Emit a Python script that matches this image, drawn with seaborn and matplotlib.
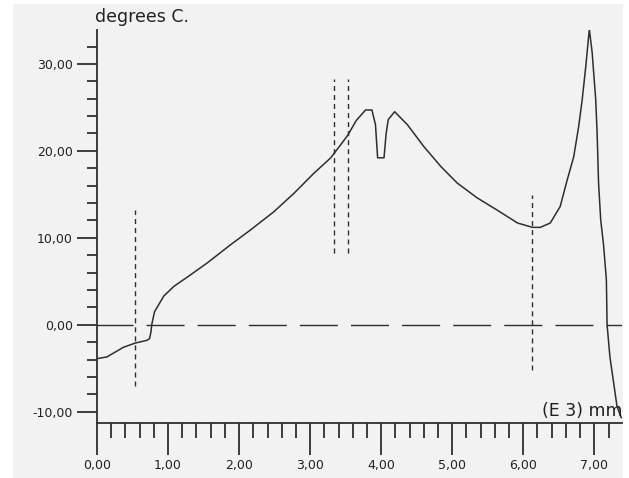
import matplotlib
matplotlib.use("Agg")
import matplotlib.pyplot as plt
from matplotlib.patches import Rectangle
from matplotlib.ticker import MultipleLocator, FuncFormatter
import seaborn as sns
import pandas as pd

# ---- data ----
depth_e3mm = [0.0, 0.14, 0.37, 0.54, 0.70, 0.74, 0.76, 0.77, 0.81, 0.94, 1.08, 1.31, 1.55,
              1.88, 2.16, 2.49, 2.77, 3.05, 3.29, 3.43, 3.53, 3.65, 3.78, 3.87, 3.92, 3.95,
              4.04, 4.07, 4.10, 4.19, 4.37, 4.60, 4.84, 5.07, 5.35, 5.63, 5.92, 6.13, 6.24,
              6.38, 6.52, 6.62, 6.71, 6.78, 6.83, 6.88, 6.93, 6.97, 7.02, 7.04, 7.06, 7.09,
              7.13, 7.17, 7.18, 7.22, 7.32, 7.38]
temp_c = [-3.9, -3.7, -2.6, -2.1, -1.8, -1.6, -0.8, 0.0, 1.5, 3.3, 4.4, 5.7, 7.1,
          9.2, 10.9, 13.0, 15.1, 17.4, 19.2, 20.7, 21.8, 23.5, 24.7, 24.7, 23.0, 19.2,
          19.2, 22.0, 23.6, 24.5, 23.0, 20.5, 18.2, 16.3, 14.6, 13.2, 11.7, 11.2, 11.2,
          11.7, 13.6, 16.7, 19.3, 22.8, 25.9, 29.7, 34.0, 31.3, 25.9, 22.0, 16.3, 12.1,
          9.2, 5.2, 0.0, -3.7, -9.4, -10.7]

marker_x = [0.535, 3.33, 3.53, 6.13]
marker_ymin = [-7.0, 8.2, 8.2, -5.2]
marker_ymax = [13.2, 28.3, 28.3, 14.9]

x_major_ticks = [0, 1, 2, 3, 4, 5, 6, 7]
y_major_ticks = [-10, 0, 10, 20, 30]
x_label = "(E 3) mm"
y_label = "degrees C."

df = pd.DataFrame({"depth": depth_e3mm, "temp": temp_c})

# ---- styling ----
sns.set_theme(style="ticks")
plt.rcParams["font.family"] = ["DejaVu Sans"]
BG = "#f2f2f2"
INK = "#2e2e2e"

W, H = 629, 478
fig = plt.figure(figsize=(W / 100, H / 100), dpi=100, facecolor="white")
fig.patches.append(Rectangle((13 / W, 0), (623 - 13) / W, (H - 4) / H,
                             transform=fig.transFigure, facecolor=BG,
                             edgecolor="none", zorder=-10))

ax = fig.add_axes([97 / W, (H - 423) / H, (622 - 97) / W, (423 - 30) / H])
ax.set_facecolor("none")

sns.lineplot(data=df, x="depth", y="temp", ax=ax, sort=False, estimator=None,
             color=INK, linewidth=1.1)

ax.axhline(0, color=INK, linewidth=1.0, linestyle=(1.5, (27.4, 9.4)))
for xv, y0, y1 in zip(marker_x, marker_ymin, marker_ymax):
    ax.plot([xv, xv], [y0, y1], color=INK, linewidth=1.0,
            linestyle=(0, (3.6, 2.9)))

ax.set_xlim(0, 7.39)
ax.set_ylim(-11.3, 33.9)

for s in ["top", "right"]:
    ax.spines[s].set_visible(False)
for s in ["left", "bottom"]:
    ax.spines[s].set_color(INK)
    ax.spines[s].set_linewidth(1.3)

ax.set_xticks(x_major_ticks)
ax.set_yticks(y_major_ticks)
ax.xaxis.set_minor_locator(MultipleLocator(0.2))
ax.yaxis.set_minor_locator(MultipleLocator(2))
fmt = FuncFormatter(lambda v, p: f"{v:.2f}".replace(".", ","))
ax.xaxis.set_major_formatter(fmt)
ax.yaxis.set_major_formatter(fmt)

ax.tick_params(axis="x", which="major", length=23, width=1.3, color=INK,
               labelsize=9, labelcolor="#222222", pad=3)
ax.tick_params(axis="x", which="minor", length=10.5, width=1.3, color=INK)
ax.tick_params(axis="y", which="major", length=14.4, width=1.3, color=INK,
               labelsize=9, labelcolor="#222222", pad=3)
ax.tick_params(axis="y", which="minor", length=7.2, width=1.3, color=INK)

ax.set_xlabel("")
ax.set_ylabel("")
fig.text(95 / W, 1 - 17 / H, y_label, ha="left", va="center", fontsize=12.5,
         color="#222222")
fig.text(622 / W, 1 - 411 / H, x_label, ha="right", va="center", fontsize=12.5,
         color="#222222")

fig.savefig("out.png", dpi=100, facecolor="white")
